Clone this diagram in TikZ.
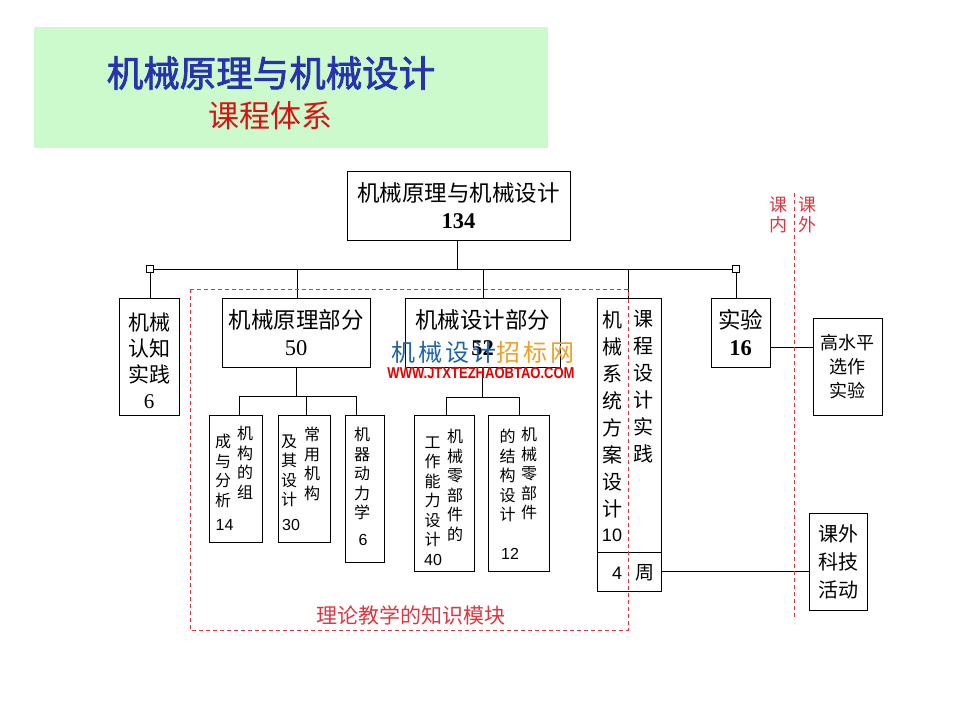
\documentclass[tikz,border=0pt]{standalone}
\usepackage{fontspec}
\usepackage{graphicx}
\usepackage{tikz}
\usetikzlibrary{positioning,calc}
\usepackage{xcolor}
\setmainfont{Liberation Serif}
\newfontfamily\cjk{Noto Sans CJK SC}
\newfontfamily\cjkbf[FakeBold=2]{Noto Sans CJK SC}
\newfontfamily\cjkwm[LetterSpace=12]{Noto Sans CJK SC}
\newfontfamily\numsf{Liberation Sans}
\newfontfamily\numrm{Liberation Serif}
\definecolor{titlebg}{RGB}{204,250,204}
\definecolor{titleblue}{RGB}{40,50,175}
\definecolor{titlered}{RGB}{215,20,20}
\definecolor{kred}{RGB}{220,55,65}
\definecolor{wmblue}{RGB}{30,100,170}
\definecolor{wmorange}{RGB}{240,160,40}
\definecolor{wmred}{RGB}{230,0,0}
\tikzset{
  box/.style={draw, line width=0.9pt, fill=white, inner sep=0pt},
  hbox/.style={box, align=center, font=\cjk\fontsize{22.5}{27}\selectfont},
  vcol/.style={align=center, inner sep=0pt, anchor=north, font=\cjk\fontsize{16}{19.5}\selectfont},
  bigcol/.style={align=center, inner sep=0pt, anchor=north, font=\cjk\fontsize{20}{27}\selectfont},
  num/.style={inner sep=0pt, font=\numsf\fontsize{16}{16}\selectfont},
  redline/.style={draw=kred, line width=1pt, dash pattern=on 4pt off 3pt},
  redtxt/.style={text=kred, inner sep=0pt, font=\cjk\fontsize{18}{20}\selectfont},
  jsq/.style={draw, fill=white, minimum size=7pt, inner sep=0pt, line width=0.8pt},
}

\begin{document}
\begin{tikzpicture}[x=1pt,y=-1pt,line width=0.9pt]
\useasboundingbox (0,0) rectangle (960,720);
% title
\fill[titlebg] (34,27) rectangle (548,148);
\node[text=titleblue, font=\cjkbf\fontsize{36.5}{36.5}\selectfont] (title) at (271,73) {机械原理与机械设计};
\node[text=titlered, font=\cjk\fontsize{31}{31}\selectfont] (subtitle) at (270,116) {课程体系};

% top level
\node[hbox, minimum width=223pt, minimum height=69pt] (top) at (458.5,205.5) {机械原理与机械设计\\{\numrm\bfseries 134}};
\node[jsq] (sqL) at (150,269) {};
\node[jsq] (sqR) at (736,269) {};
\coordinate (bTop) at (457,269);
\coordinate (bYl) at (297,269);
\coordinate (bSj) at (483,269);
\coordinate (bXt) at (628,269);
\draw (top.south -| bTop) -- (bTop);
\draw (sqL) -- (sqR);

% second level
\node[box, minimum width=60pt, minimum height=117pt] (renzhi) at (149,356.5) {};
\node[align=center, inner sep=0pt, font=\cjk\fontsize{21}{26}\selectfont] (renzhiT) at (149,361) {机械\\认知\\实践\\{\numrm 6}};
\node[hbox, minimum width=148pt, minimum height=69pt] (yuanli) at (296,332.5) {机械原理部分\\{\numrm 50}};
\node[hbox, minimum width=155pt, minimum height=69pt] (sheji) at (482.5,332.5) {机械设计部分\\{\numrm\bfseries 52}};
\node[box, minimum width=64pt, minimum height=254pt] (xitong) at (629,425) {};
\node[box, minimum width=64pt, minimum height=39pt] (zhou) at (629,571.5) {};
\node[hbox, minimum width=59pt, minimum height=69pt] (shiyan) at (740.5,332.5) {实验\\{\numrm\bfseries 16}};
\node[box, align=center, minimum width=69pt, minimum height=97pt, font=\cjk\fontsize{18}{24}\selectfont] (gao) at (847.5,366.5) {高水平\\选作\\实验};
\node[box, align=center, minimum width=58pt, minimum height=97pt, font=\cjk\fontsize{20}{28}\selectfont] (kewai) at (838,561.5) {课外\\科技\\活动};
\draw (sqL) -- (sqL |- renzhi.north);
\draw (bYl) -- (bYl |- yuanli.north);
\draw (bSj) -- (bSj |- sheji.north);
\draw (bXt) -- (bXt |- xitong.north);
\draw (sqR) -- (sqR |- shiyan.north);
\coordinate (syR) at ([yshift=-14.5pt]shiyan.east);
\draw (syR) -- (syR -| gao.west);
\draw (zhou.east) -- (zhou.east -| kewai.west);

% course design text
\node[bigcol] (xtL) at (612,310) {机\\械\\系\\统\\方\\案\\设\\计};
\node[bigcol] (xtR) at (643,310) {课\\程\\设\\计\\实\\践};
\node[num, font=\numsf\fontsize{18}{18}\selectfont] (xtN) at (612,535) {10};
\node[num, font=\numsf\fontsize{18}{18}\selectfont] (zhouN) at (617,573) {4};
\node[inner sep=0pt, font=\cjk\fontsize{19}{19}\selectfont] (zhouT) at (645,573) {周};

% third level, theory part
\node[box, minimum width=53pt, minimum height=127pt] (a) at (235.5,478.5) {};
\node[box, minimum width=52pt, minimum height=127pt] (b) at (304,478.5) {};
\node[box, minimum width=39pt, minimum height=147pt] (c) at (364.5,488.5) {};
\coordinate (ya) at (239,396);
\coordinate (yb) at (306,396);
\coordinate (yc) at (356,396);
\draw (yuanli.south) -- (yuanli.south |- ya);
\draw (ya) -- (yc);
\draw (ya) -- (ya |- a.north);
\draw (yb) -- (yb |- b.north);
\draw (yc) -- (yc |- c.north);
\node[vcol] (aR) at (245,426) {机\\构\\的\\组};
\node[vcol] (aL) at (223,434) {成\\与\\分\\析};
\node[num] (aN) at (224.5,525) {14};
\node[vcol] (bR) at (312,427) {常\\用\\机\\构};
\node[vcol] (bL) at (289,434) {及\\其\\设\\计};
\node[num] (bN) at (291,525) {30};
\node[vcol] (cC) at (362,427) {机\\器\\动\\力\\学};
\node[num] (cN) at (363,540) {6};

% third level, design part
\node[box, minimum width=60pt, minimum height=156pt] (d) at (444,493) {};
\node[box, minimum width=61pt, minimum height=156pt] (e) at (518.5,493) {};
\coordinate (sd) at (446,397);
\coordinate (se) at (519,397);
\draw (sheji.south) -- (sheji.south |- sd);
\draw (sd) -- (se);
\draw (sd) -- (sd |- d.north);
\draw (se) -- (se |- e.north);
\node[vcol] (dR) at (455,429) {机\\械\\零\\部\\件\\的};
\node[vcol] (dL) at (432.5,436) {工\\作\\能\\力\\设\\计};
\node[num] (dN) at (433,560) {40};
\node[vcol] (eR) at (529,427) {机\\械\\零\\部\\件};
\node[vcol] (eL) at (507.5,429) {的\\结\\构\\设\\计};
\node[num] (eN) at (510,554) {12};

% red dashed frames
\draw[redline] (190,289) rectangle (628,630);
\node[redtxt, font=\cjk\fontsize{21}{21}\selectfont] (theory) at (411,615) {理论教学的知识模块};
\coordinate (splitT) at (794,193);
\coordinate (splitB) at (794,620);
\draw[redline] (splitT) -- (splitB);
\node[redtxt, align=center] (kenei) at (778,215) {课\\内};
\node[redtxt, align=center] (kewaiT) at (807,215) {课\\外};

% watermark
\node[inner sep=0pt, font=\cjkwm\fontsize{24}{24}\selectfont] (wm) at (483,352) {{\color{wmblue}机械设计}{\color{wmorange}招标网}};
\node[inner sep=0pt, text=wmred] (wmurl) at (481,373) {\resizebox{187pt}{11pt}{\numsf\bfseries WWW.JTXTEZHAOBTAO.COM}};
\end{tikzpicture}
\end{document}
